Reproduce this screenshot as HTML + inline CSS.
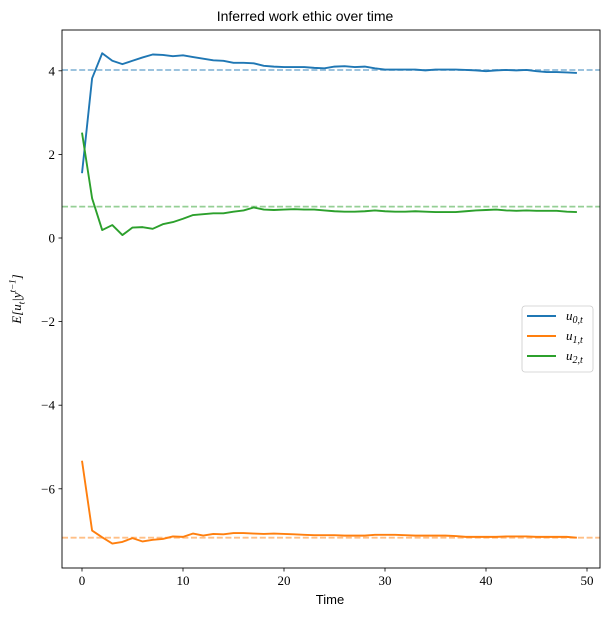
<!DOCTYPE html>
<html><head><meta charset="utf-8"><style>
body{margin:0;background:#fff}
svg text{font-family:"Liberation Serif",serif;font-size:13px;fill:#000}
</style></head><body>
<svg id="chart" width="610" height="618" xmlns="http://www.w3.org/2000/svg">
<rect x="0" y="0" width="610" height="618" fill="#fff"/>
<g id="plot"></g>
</svg>
<script>
const timeSteps = Array.from({length:50},(_, i)=>i);
const u0 = [1.55,3.82,4.42,4.24,4.16,4.24,4.32,4.39,4.38,4.35,4.37,4.33,4.29,4.25,4.24,4.19,4.19,4.18,4.12,4.10,4.09,4.09,4.09,4.07,4.06,4.10,4.11,4.09,4.10,4.06,4.03,4.03,4.03,4.03,4.01,4.03,4.03,4.03,4.02,4.01,3.99,4.01,4.02,4.01,4.02,3.99,3.97,3.97,3.96,3.95];
const u1 = [-5.33,-7.00,-7.16,-7.31,-7.27,-7.18,-7.26,-7.22,-7.20,-7.14,-7.15,-7.07,-7.12,-7.08,-7.09,-7.06,-7.06,-7.07,-7.08,-7.07,-7.08,-7.09,-7.10,-7.11,-7.11,-7.11,-7.12,-7.12,-7.12,-7.10,-7.10,-7.10,-7.11,-7.12,-7.12,-7.12,-7.12,-7.13,-7.15,-7.15,-7.15,-7.15,-7.14,-7.14,-7.14,-7.15,-7.15,-7.15,-7.15,-7.17];
const u2 = [2.52,0.95,0.19,0.31,0.07,0.25,0.26,0.22,0.33,0.38,0.46,0.55,0.57,0.59,0.59,0.63,0.66,0.73,0.68,0.67,0.68,0.69,0.68,0.68,0.66,0.64,0.63,0.63,0.64,0.66,0.64,0.63,0.63,0.64,0.63,0.62,0.62,0.62,0.64,0.66,0.67,0.68,0.66,0.65,0.66,0.65,0.65,0.65,0.63,0.62];
const trueValues = [4.02,-7.17,0.75];
const seriesNames = ["u_{0,t}","u_{1,t}","u_{2,t}"];
const xTicks = [0,10,20,30,40,50];
const yTicks = [-6,-4,-2,0,2,4];

const L=62,R=600,T=30,B=568;
const xs = v => 82 + v*10.1;
const ys = v => 238 - v*41.8;
const NS="http://www.w3.org/2000/svg";
const g=document.getElementById('plot');
function mk(tag,attrs,parent){const e=document.createElementNS(NS,tag);for(const k in attrs)e.setAttribute(k,attrs[k]);(parent||g).appendChild(e);return e;}
const colors=["#1f77b4","#ff7f0e","#2ca02c"];
const dashColors=["#8fbbd9","#ffbf86","#95cf95"];
const series=[u0,u1,u2];

trueValues.forEach((v,i)=>{
  const l=mk('line',{x1:L,x2:R,y1:ys(v),y2:ys(v),stroke:dashColors[i],'stroke-width':1.8,'stroke-dasharray':'6,2.6'});
  
  
});
series.forEach((s,i)=>{
  const p=mk('polyline',{points:s.map((v,j)=>xs(timeSteps[j])+','+ys(v)).join(' '),fill:'none',stroke:colors[i],'stroke-width':1.9,'stroke-linejoin':'round'});
  
  
});
const fr=mk('rect',{x:L,y:T,width:R-L,height:B-T,fill:'none',stroke:'#000','stroke-width':0.9});


xTicks.forEach(t=>{
  mk('line',{x1:xs(t),x2:xs(t),y1:B,y2:B+3.5,stroke:'#000','stroke-width':0.8});
  const tx=mk('text',{x:xs(t),y:B+17,'text-anchor':'middle'});tx.textContent=t;
  
  
});
yTicks.forEach(t=>{
  mk('line',{x1:L-3.5,x2:L,y1:ys(t),y2:ys(t),stroke:'#000','stroke-width':0.8});
  const tx=mk('text',{x:L-7,y:ys(t)+4.5,'text-anchor':'end'});tx.textContent=(t<0?'\u2212':'')+Math.abs(t);
  
  
});
const lg=mk('g',{});


mk('rect',{x:522,y:306,width:71,height:66,rx:3,fill:'#fff',stroke:'#ccc','stroke-width':0.8},lg);
seriesNames.forEach((n,i)=>{
  const y=316+i*20;
  mk('line',{x1:527,x2:556,y1:y,y2:y,stroke:colors[i],'stroke-width':1.9},lg);
  const t=mk('text',{x:566,y:y+4,'font-style':'italic','font-size':14},lg);
  t.innerHTML='u<tspan font-size="10" dy="3">'+n.slice(3,-1)+'</tspan>';
  
  
});
</script>
<div style="position:absolute;left:0;width:610px;top:8px;text-align:center;font:14px 'Liberation Sans',sans-serif;">Inferred work ethic over time</div>
<div style="position:absolute;left:330px;top:592px;transform:translateX(-50%);font:13px 'Liberation Sans',sans-serif;">Time</div>
<div style="position:absolute;left:17px;top:299px;transform:translate(-50%,-50%) rotate(-90deg);font:italic 13px 'Liberation Serif',serif;white-space:nowrap;">E[u<sub style="font-size:9px">t</sub>|y<sup style="font-size:9px">t−1</sup>]</div>
</body></html>
